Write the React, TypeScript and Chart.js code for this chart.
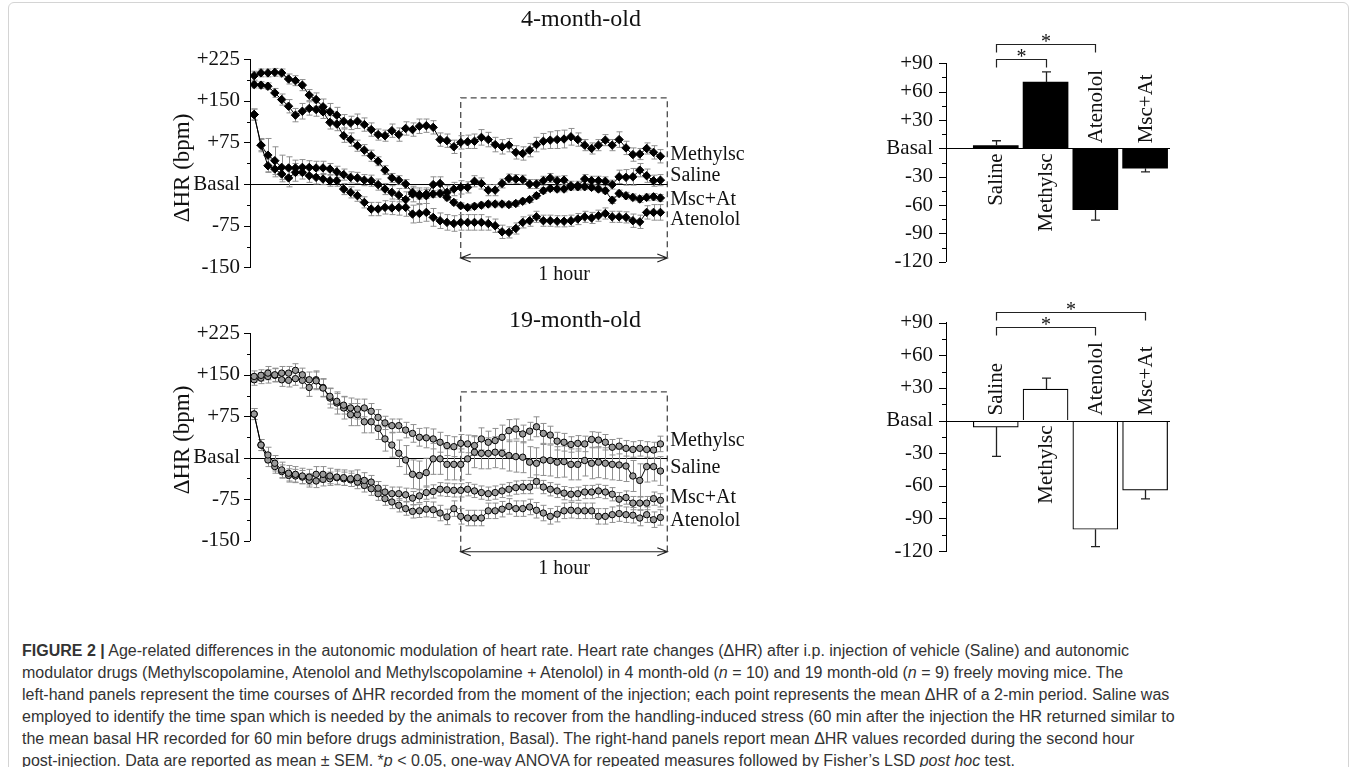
import React, { useEffect, useRef } from 'react';
import { Chart, registerables } from 'chart.js';
Chart.register(...registerables);

const SERIF = '"Liberation Serif", "Times New Roman", Times, serif';
const SANS = '"Liberation Sans", Arial, Helvetica, sans-serif';

// ---- time axis (minutes after injection, one point per 2-min period)
const timeMin = [0,2,4,6,8,10,12,14,16,18,20,22,24,26,28,30,32,34,36,38,40,42,44,46,48,50,52,54,56,58,
  60,62,64,66,68,70,72,74,76,78,80,82,84,86,88,90,92,94,96,98,100,102,104,106,108,110,112,114,116,118];

const seriesNames = ['Methylsc', 'Saline', 'Msc+At', 'Atenolol'];

// ---- 4-month-old: mean ΔHR (bpm)
const m4Methylsc = [195,200,200,201,200,189,186,178,160,152,139,130,124,113,110,113,107,98,89,87,96,89,100,98,104,105,102,80,78,67,75,76,77,84,80,71,67,70,57,55,61,71,77,79,80,81,85,80,70,64,70,79,70,80,65,53,54,64,57,50];
const m4Saline = [125,70,52,42,30,29,29,30,30,29,29,27,22,17,12,11,7,6,-1,-9,-15,-20,-28,-18,-21,-21,-1,1,-15,-9,-6,-6,5,1,-11,-11,1,10,9,8,0,0,6,11,6,7,-3,-3,9,6,6,5,-1,13,12,13,25,15,6,7];
const m4MscAt = [179,178,176,164,152,140,124,131,136,134,130,111,108,87,80,69,61,51,41,25,11,7,0,-15,-19,-18,-18,-17,-24,-33,-39,-42,-40,-38,-36,-36,-36,-37,-35,-31,-28,-21,-12,-8,-9,-9,-5,-5,-5,-6,-9,-12,-29,-17,-21,-24,-27,-24,-23,-25];
const m4Atenolol = [125,70,33,27,18,11,21,21,15,12,9,6,6,-9,-15,-21,-33,-45,-45,-42,-43,-42,-42,-54,-53,-51,-60,-66,-69,-71,-69,-69,-69,-69,-71,-75,-86,-87,-80,-69,-66,-59,-66,-66,-67,-67,-66,-63,-59,-61,-57,-53,-59,-59,-60,-66,-68,-51,-51,-51];
// SEM
const s4Methylsc = [8,7,7,7,7,9,9,10,10,12,14,15,14,12,12,13,12,12,10,10,12,12,12,12,13,12,12,12,12,12,12,12,13,14,13,13,13,12,12,12,12,13,14,15,16,16,15,12,10,10,10,10,10,14,12,12,10,10,12,12];
const s4Saline = [10,12,30,25,22,20,14,14,12,12,12,10,10,10,10,10,10,10,10,10,12,12,14,14,14,14,14,12,12,12,12,10,10,10,10,10,8,8,8,8,8,8,8,8,8,8,8,8,8,8,8,8,8,12,14,15,12,12,10,10];
const s4MscAt = [6,6,6,8,10,12,12,14,12,12,12,12,12,12,12,10,10,10,8,8,8,8,8,8,8,8,6,6,6,5,5,5,5,5,5,5,5,5,5,5,5,5,5,5,5,5,5,5,5,5,5,5,6,6,6,6,6,6,6,6];
const s4Atenolol = [10,10,12,14,14,16,16,12,12,12,10,10,10,10,10,10,10,12,12,12,12,14,16,16,16,16,16,14,14,14,14,14,14,14,12,12,12,10,10,10,10,10,10,10,10,10,10,10,10,10,10,10,10,10,10,12,12,12,14,14];

// ---- 19-month-old: mean ΔHR (bpm)
const m19Methylsc = [147,149,153,150,153,153,158,150,141,139,126,111,102,95,90,88,90,84,73,63,58,58,50,44,37,36,34,28,22,20,26,25,22,34,28,31,37,49,52,43,48,56,44,41,30,28,24,26,25,33,32,28,19,21,17,15,17,15,14,25];
const m19Saline = [141,144,147,149,141,140,143,140,127,141,127,108,99,90,78,78,65,65,53,34,23,8,-4,-30,-32,-27,-2,-2,-12,-12,-12,-2,10,8,8,10,8,4,2,1,-8,-10,-4,-5,-8,-7,-12,-12,-5,-10,-8,-10,-12,-13,-15,-33,-41,-16,-16,-24];
const m19MscAt = [79,23,5,-10,-22,-28,-30,-33,-35,-30,-30,-33,-35,-36,-38,-36,-41,-44,-55,-62,-65,-65,-67,-73,-69,-63,-61,-57,-58,-59,-59,-57,-60,-63,-65,-63,-60,-57,-54,-53,-53,-43,-53,-57,-60,-64,-66,-65,-62,-62,-60,-62,-66,-75,-72,-82,-82,-82,-74,-77];
const m19Atenolol = [79,23,-4,-16,-25,-32,-33,-35,-41,-42,-39,-38,-36,-38,-40,-44,-50,-56,-65,-74,-80,-86,-92,-97,-96,-93,-94,-100,-107,-92,-106,-109,-109,-109,-96,-96,-93,-88,-92,-92,-89,-95,-100,-106,-102,-96,-95,-96,-96,-96,-106,-106,-103,-101,-103,-104,-109,-103,-112,-108];
// SEM
const s19Methylsc = [10,10,12,12,12,12,12,12,14,16,16,14,14,16,18,18,16,14,14,12,12,12,14,16,16,18,18,18,18,18,16,16,18,20,20,22,22,20,18,16,16,18,18,16,16,16,14,14,14,14,14,14,14,14,14,14,14,14,14,14];
const s19Saline = [10,10,12,12,12,12,12,14,16,16,16,18,20,20,20,20,20,20,20,22,22,24,26,26,26,26,28,28,28,28,28,28,28,28,28,28,28,28,28,28,28,28,28,28,28,28,28,28,28,28,28,28,28,28,28,28,30,28,26,26];
const s19MscAt = [10,10,14,14,14,14,14,14,14,14,14,14,14,14,14,14,14,12,12,12,12,12,12,12,12,12,12,12,12,12,12,12,12,12,12,12,12,12,12,12,12,12,12,12,12,12,12,12,12,12,12,12,12,12,12,12,12,12,12,12];
const s19Atenolol = [10,10,12,12,12,12,12,12,12,12,12,12,12,12,12,12,12,12,12,12,12,12,12,12,12,14,14,14,14,14,14,14,14,14,14,14,14,14,14,14,14,14,14,14,14,14,14,14,14,14,14,14,14,14,14,14,14,14,14,14];

// ---- axis ticks
const lineTicks = [-150,-112.5,-75,-37.5,0,37.5,75,112.5,150,187.5,225];
const lineTickText: Record<string, string> = { '-150': '-150', '-75': '-75', '0': 'Basal', '75': '+75', '150': '+150', '225': '+225' };
const barTicks = [-120,-105,-90,-75,-60,-45,-30,-15,0,15,30,45,60,75,90];
const barTickText: Record<string, string> = { '-120': '-120', '-90': '-90', '-60': '-60', '-30': '-30', '0': 'Basal', '30': '+30', '60': '+60', '90': '+90' };

// ---- bar panels: mean ΔHR during the second hour
const barGroups = ['Saline', 'Methylsc', 'Atenolol', 'Msc+At'];
const bar4Mean = [3, 70, -65, -21];
const bar4Sem = [5, 11, 11, 4];
const bar19Mean = [-6, 29, -100, -64];
const bar19Sem = [27, 10, 16, 8];
// significance brackets: [from group, to group, level in bpm]
const bar4Brackets = [[1, 2, 95], [1, 3, 110]];
const bar19Brackets = [[1, 3, 86], [1, 4, 100]];

type Series = { name: string; values: number[]; sem: number[]; labelAt: number };

type LineCfg = {
  left: number; top: number; width: number; height: number;
  padTop: number; padBottom: number; padRight: number; axisWidth: number;
  series: Series[]; hollow: boolean;
  title: string; titleX: number; titleY: number;
  yTitleX: number; yTitleY: number;
  box: [number, number, number, number];
};

function makeLinePlugin(cfg: LineCfg) {
  return {
    id: 'lineDecor',
    beforeDatasetsDraw(chart: any) {
      const { ctx, chartArea: ca, scales } = chart;
      const xs = scales.x, ys = scales.y;
      ctx.save();
      const bx0 = xs.getPixelForValue(cfg.box[0]);
      const bx1 = xs.getPixelForValue(cfg.box[1]);
      const byT = ys.getPixelForValue(cfg.box[2]);
      const byB = ys.getPixelForValue(cfg.box[3]);
      ctx.strokeStyle = '#4a4a4a'; ctx.lineWidth = 1.3; ctx.setLineDash([6, 4]);
      ctx.beginPath();
      ctx.moveTo(bx0, byB); ctx.lineTo(bx0, byT); ctx.lineTo(bx1, byT); ctx.lineTo(bx1, byB);
      ctx.stroke();
      ctx.setLineDash([]);
      ctx.strokeStyle = '#222'; ctx.lineWidth = 1.2;
      ctx.beginPath();
      ctx.moveTo(bx0, byB); ctx.lineTo(bx1, byB);
      ctx.moveTo(bx0 + 10, byB - 4); ctx.lineTo(bx0, byB); ctx.lineTo(bx0 + 10, byB + 4);
      ctx.moveTo(bx1 - 10, byB - 4); ctx.lineTo(bx1, byB); ctx.lineTo(bx1 - 10, byB + 4);
      ctx.stroke();
      const y0 = Math.round(ys.getPixelForValue(0)) + 0.5;
      ctx.strokeStyle = '#000'; ctx.lineWidth = 1;
      ctx.beginPath(); ctx.moveTo(ca.left, y0); ctx.lineTo(ca.right, y0); ctx.stroke();
      ctx.strokeStyle = '#8f8f8f'; ctx.lineWidth = 1;
      cfg.series.forEach((s, di) => {
        const meta = chart.getDatasetMeta(di);
        meta.data.forEach((pt: any, i: number) => {
          const v = s.values[i], e = s.sem[i];
          const yt = ys.getPixelForValue(v + e), yb = ys.getPixelForValue(v - e);
          const px = Math.round(pt.x) + 0.5;
          ctx.beginPath();
          ctx.moveTo(px, yt); ctx.lineTo(px, yb);
          ctx.moveTo(px - 3, yt); ctx.lineTo(px + 3, yt);
          ctx.moveTo(px - 3, yb); ctx.lineTo(px + 3, yb);
          ctx.stroke();
        });
      });
      ctx.restore();
    },
    afterDraw(chart: any) {
      const { ctx, chartArea: ca, scales } = chart;
      const xs = scales.x, ys = scales.y;
      ctx.save();
      ctx.strokeStyle = '#000'; ctx.lineWidth = 1;
      ctx.beginPath();
      ys.ticks.forEach((t: any) => {
        const py = Math.round(ys.getPixelForValue(t.value)) + 0.5;
        const major = !!lineTickText[String(t.value)];
        ctx.moveTo(ca.left - (major ? 6 : 3), py); ctx.lineTo(ca.left, py);
      });
      ctx.stroke();
      ctx.fillStyle = '#111';
      ctx.font = `20px ${SERIF}`;
      ctx.textAlign = 'left'; ctx.textBaseline = 'middle';
      cfg.series.forEach((s) => {
        ctx.fillText(s.name, ca.right + 3, ys.getPixelForValue(s.labelAt));
      });
      const bx0 = xs.getPixelForValue(cfg.box[0]);
      const bx1 = xs.getPixelForValue(cfg.box[1]);
      const byB = ys.getPixelForValue(cfg.box[3]);
      ctx.textAlign = 'center';
      ctx.fillText('1 hour', (bx0 + bx1) / 2, byB + 17);
      ctx.font = `24px ${SERIF}`;
      ctx.textAlign = 'right';
      ctx.fillText(cfg.title, cfg.titleX, cfg.titleY);
      ctx.translate(cfg.yTitleX, cfg.yTitleY);
      ctx.rotate(-Math.PI / 2);
      ctx.textAlign = 'center';
      ctx.font = `23px ${SERIF}`;
      ctx.fillText('ΔHR (bpm)', 0, 0);
      ctx.restore();
    },
  };
}

function LinePanel({ cfg }: { cfg: LineCfg }) {
  const ref = useRef<HTMLCanvasElement>(null);
  useEffect(() => {
    const canvas = ref.current!;
    const chart = new Chart(canvas, {
      type: 'line',
      data: {
        datasets: cfg.series.map((s) => ({
          label: s.name,
          data: s.values.map((v, i) => ({ x: timeMin[i], y: v })),
          borderColor: '#000',
          borderWidth: 1,
          pointStyle: cfg.hollow ? 'circle' : 'rectRot',
          pointRadius: cfg.hollow ? 3.2 : 4.2,
          pointBackgroundColor: cfg.hollow ? '#9a9a9a' : '#000',
          pointBorderColor: '#000',
          pointBorderWidth: 1,
          tension: 0,
          fill: false,
        })),
      },
      options: {
        responsive: false,
        animation: false,
        devicePixelRatio: 1,
        layout: { padding: { left: 0, right: cfg.padRight, top: cfg.padTop, bottom: cfg.padBottom } },
        plugins: { legend: { display: false }, tooltip: { enabled: false } },
        scales: {
          x: { type: 'linear', min: -1.2, max: 120, display: false },
          y: {
            min: -150, max: 225,
            afterBuildTicks: (s: any) => { s.ticks = lineTicks.map((v) => ({ value: v })); },
            afterFit: (s: any) => { s.width = cfg.axisWidth; },
            grid: { drawOnChartArea: false, drawTicks: false },
            border: { display: true, color: '#000', width: 1 },
            ticks: {
              autoSkip: false, padding: 10, color: '#111',
              font: { family: SERIF, size: 21 },
              callback: (v: any) => lineTickText[String(v)] ?? '',
            },
          },
        },
      } as any,
      plugins: [makeLinePlugin(cfg)],
    });
    return () => chart.destroy();
  }, []);
  return (
    <canvas ref={ref} width={cfg.width} height={cfg.height}
      style={{ position: 'absolute', left: cfg.left, top: cfg.top, width: cfg.width, height: cfg.height }} />
  );
}

type BarCfg = {
  left: number; top: number; width: number; height: number;
  padTop: number; padBottom: number; padRight: number; axisWidth: number;
  means: number[]; sems: number[]; filled: boolean; brackets: number[][];
};

function makeBarPlugin(cfg: BarCfg) {
  return {
    id: 'barDecor',
    afterDatasetsDraw(chart: any) {
      const { ctx, chartArea: ca, scales } = chart;
      const xs = scales.x, ys = scales.y;
      ctx.save();
      const y0 = Math.round(ys.getPixelForValue(0)) + 0.5;
      ctx.strokeStyle = '#000'; ctx.lineWidth = 1;
      ctx.beginPath(); ctx.moveTo(ca.left, y0); ctx.lineTo(ca.right, y0); ctx.stroke();
      // error bars
      ctx.strokeStyle = '#222'; ctx.lineWidth = 1.3;
      cfg.means.forEach((m, i) => {
        const px = Math.round(xs.getPixelForValue(i + 1)) + 0.5;
        const dir = m >= 0 ? 1 : -1;
        const pa = ys.getPixelForValue(m);
        const pb = ys.getPixelForValue(m + dir * cfg.sems[i]);
        ctx.beginPath();
        ctx.moveTo(px, pa); ctx.lineTo(px, pb);
        ctx.moveTo(px - 4.5, pb); ctx.lineTo(px + 4.5, pb);
        ctx.stroke();
      });
      // tick marks
      ctx.strokeStyle = '#000'; ctx.lineWidth = 1;
      ctx.beginPath();
      ys.ticks.forEach((t: any) => {
        const py = Math.round(ys.getPixelForValue(t.value)) + 0.5;
        const major = !!barTickText[String(t.value)];
        ctx.moveTo(ca.left - (major ? 7 : 4), py); ctx.lineTo(ca.left, py);
      });
      ctx.stroke();
      // group labels
      ctx.fillStyle = '#111';
      ctx.font = `21px ${SERIF}`;
      ctx.textBaseline = 'middle';
      cfg.means.forEach((m, i) => {
        const px = xs.getPixelForValue(i + 1);
        ctx.save();
        if (m >= 0) {
          ctx.translate(px, ys.getPixelForValue(0) + 5);
          ctx.rotate(-Math.PI / 2);
          ctx.textAlign = 'right';
        } else {
          ctx.translate(px, ys.getPixelForValue(0) - 5);
          ctx.rotate(-Math.PI / 2);
          ctx.textAlign = 'left';
        }
        ctx.fillText(barGroups[i], 0, 1);
        ctx.restore();
      });
      // significance brackets
      ctx.strokeStyle = '#222'; ctx.lineWidth = 1.2;
      ctx.textAlign = 'center'; ctx.textBaseline = 'alphabetic';
      ctx.font = `20px ${SERIF}`;
      cfg.brackets.forEach(([a, b, lvl]) => {
        const xa = Math.round(xs.getPixelForValue(a)) + 0.5;
        const xb = Math.round(xs.getPixelForValue(b)) + 0.5;
        const yl = Math.round(ys.getPixelForValue(lvl)) + 0.5;
        ctx.beginPath();
        ctx.moveTo(xa, yl + 8); ctx.lineTo(xa, yl); ctx.lineTo(xb, yl); ctx.lineTo(xb, yl + 8);
        ctx.stroke();
        ctx.fillText('*', (xa + xb) / 2, yl + 3);
      });
      ctx.restore();
    },
  };
}

function BarPanel({ cfg }: { cfg: BarCfg }) {
  const ref = useRef<HTMLCanvasElement>(null);
  useEffect(() => {
    const canvas = ref.current!;
    const chart = new Chart(canvas, {
      type: 'bar',
      data: {
        datasets: [{
          label: 'ΔHR',
          data: cfg.means.map((m, i) => ({ x: i + 1, y: m })),
          backgroundColor: cfg.filled ? '#000' : '#fff',
          borderColor: '#000',
          borderWidth: cfg.filled ? 0 : 1.2,
          barThickness: 45,
        }],
      },
      options: {
        responsive: false,
        animation: false,
        devicePixelRatio: 1,
        layout: { padding: { left: 0, right: cfg.padRight, top: cfg.padTop, bottom: cfg.padBottom } },
        plugins: { legend: { display: false }, tooltip: { enabled: false } },
        scales: {
          x: { type: 'linear', min: 0, max: 4.5, offset: false, display: false },
          y: {
            min: -120, max: 90,
            afterBuildTicks: (s: any) => { s.ticks = barTicks.map((v) => ({ value: v })); },
            afterFit: (s: any) => { s.width = cfg.axisWidth; },
            grid: { drawOnChartArea: false, drawTicks: false },
            border: { display: true, color: '#000', width: 1 },
            ticks: {
              autoSkip: false, padding: 13, color: '#111',
              font: { family: SERIF, size: 21 },
              callback: (v: any) => barTickText[String(v)] ?? '',
            },
          },
        },
      } as any,
      plugins: [makeBarPlugin(cfg)],
    });
    return () => chart.destroy();
  }, []);
  return (
    <canvas ref={ref} width={cfg.width} height={cfg.height}
      style={{ position: 'absolute', left: cfg.left, top: cfg.top, width: cfg.width, height: cfg.height }} />
  );
}

const top4: LineCfg = {
  left: 140, top: 0, width: 620, height: 290,
  padTop: 59, padBottom: 22.3, padRight: 92.7, axisWidth: 110,
  series: [
    { name: seriesNames[0], values: m4Methylsc, sem: s4Methylsc, labelAt: 52 },
    { name: seriesNames[1], values: m4Saline, sem: s4Saline, labelAt: 15 },
    { name: seriesNames[2], values: m4MscAt, sem: s4MscAt, labelAt: -28 },
    { name: seriesNames[3], values: m4Atenolol, sem: s4Atenolol, labelAt: -65 },
  ],
  hollow: false,
  title: '4-month-old', titleX: 501, titleY: 20,
  yTitleX: 43, yTitleY: 168,
  box: [60, 120, 155, -133],
};

const bottom19: LineCfg = {
  left: 140, top: 290, width: 620, height: 300,
  padTop: 43.3, padBottom: 49.3, padRight: 92.7, axisWidth: 110,
  series: [
    { name: seriesNames[0], values: m19Methylsc, sem: s19Methylsc, labelAt: 31 },
    { name: seriesNames[1], values: m19Saline, sem: s19Saline, labelAt: -19 },
    { name: seriesNames[2], values: m19MscAt, sem: s19MscAt, labelAt: -72 },
    { name: seriesNames[3], values: m19Atenolol, sem: s19Atenolol, labelAt: -114 },
  ],
  hollow: true,
  title: '19-month-old', titleX: 501, titleY: 31,
  yTitleX: 43, yTitleY: 150,
  box: [60, 120, 119, -170],
};

const bars4: BarCfg = {
  left: 860, top: 0, width: 340, height: 290,
  padTop: 63.3, padBottom: 28.3, padRight: 30, axisWidth: 86,
  means: bar4Mean, sems: bar4Sem, filled: true, brackets: bar4Brackets,
};

const bars19: BarCfg = {
  left: 860, top: 290, width: 340, height: 300,
  padTop: 32.7, padBottom: 39, padRight: 30, axisWidth: 86,
  means: bar19Mean, sems: bar19Sem, filled: false, brackets: bar19Brackets,
};

export default function App() {
  return (
    <div style={{ position: 'absolute', left: 0, top: 0, width: 1357, height: 767, overflow: 'hidden', background: '#fff' }}>
      <div style={{ position: 'absolute', left: 8, top: 2, width: 1339, height: 800, border: '1px solid #d4d4d4', borderRadius: 6 }} />
      <LinePanel cfg={top4} />
      <LinePanel cfg={bottom19} />
      <BarPanel cfg={bars4} />
      <BarPanel cfg={bars19} />
      <div style={{ position: 'absolute', left: 22, top: 640, fontFamily: SANS, fontSize: 16, lineHeight: '22px', color: '#333', whiteSpace: 'nowrap' }}>
        <b>FIGURE 2 |</b> Age-related differences in the autonomic modulation of heart rate. Heart rate changes (ΔHR) after i.p. injection of vehicle (Saline) and autonomic<br />
        modulator drugs (Methylscopolamine, Atenolol and Methylscopolamine + Atenolol) in 4 month-old (<i>n</i> = 10) and 19 month-old (<i>n</i> = 9) freely moving mice. The<br />
        left-hand panels represent the time courses of ΔHR recorded from the moment of the injection; each point represents the mean ΔHR of a 2-min period. Saline was<br />
        employed to identify the time span which is needed by the animals to recover from the handling-induced stress (60 min after the injection the HR returned similar to<br />
        the mean basal HR recorded for 60 min before drugs administration, Basal). The right-hand panels report mean ΔHR values recorded during the second hour<br />
        post-injection. Data are reported as mean ± SEM. *<i>p</i> &lt; 0.05, one-way ANOVA for repeated measures followed by Fisher’s LSD <i>post hoc</i> test.
      </div>
    </div>
  );
}
